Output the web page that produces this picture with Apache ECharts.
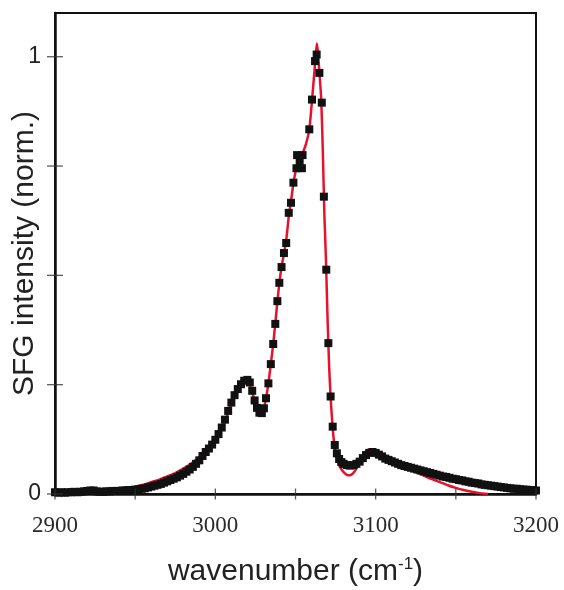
<!DOCTYPE html>
<html>
<head>
<meta charset="utf-8">
<script src="https://cdn.jsdelivr.net/npm/echarts@6/dist/echarts.min.js"></script>
<style>
html,body{margin:0;padding:0;background:#fff;}
#chart{width:564px;height:590px;}
</style>
</head>
<body>
<div id="chart"></div>
<script>
// measured SFG spectrum (black squares)
const dataWavenumber = [
  2900,2902,2904,2906,2908,2910,2912,2914,2916,2918,2920,2922,2924,2926,2928,2930,2932,2934,2936,2938,
  2940,2942,2944,2946,2948,2950,2952,2954,2956,2958,2960,2962,2964,2966,2968,2970,2972,2974,2976,2978,
  2980,2982,2984,2986,2988,2990,2992,2994,2996,2998,3000,3002,3004,3006,3008,3010,3012,3014,3016,3018,
  3020,3021.5,3023,3024.5,3026,3027.5,3029,3030.3,
  3031.6,3033.1,3034.6,3036.1,3037.4,3038.7,3039.9,3041.3,3042.8,3044.2,3045.8,3047.2,3048.7,
  3050.6,3051.0,3052.6,3054.0,3054.4,3058.6,3060.3,3062.2,3063.2,3064.9,3066.4,
  3067.7,3069.2,3070.5,3071.9,3073.2,3074.5,3075.8,3077.2,3078.6,3080,
  3082,3084,3086,3088,3090,3092,3094,3096,3098,3100,3102,3104,3106,3108,3110,3112,3114,3116,3118,3120,
  3122,3124,3126,3128,3130,3132,3134,3136,3138,3140,3142,3144,3146,3148,3150,3152,3154,3156,3158,3160,
  3162,3164,3166,3168,3170,3172,3174,3176,3178,3180,3182,3184,3186,3188,3190,3192,3194,3196,3198,3200
];
const dataIntensity = [
  0.004,0.003,0.004,0.003,0.004,0.004,0.005,0.004,0.005,0.006,0.007,0.008,0.008,0.006,0.005,0.005,0.006,0.006,0.007,0.007,
  0.007,0.008,0.008,0.009,0.009,0.010,0.011,0.012,0.013,0.015,0.017,0.019,0.021,0.023,0.026,0.029,0.032,0.035,0.038,0.042,
  0.046,0.051,0.056,0.062,0.069,0.077,0.087,0.096,0.104,0.113,0.124,0.137,0.152,0.170,0.190,0.209,0.226,0.240,0.251,0.259,
  0.261,0.255,0.236,0.214,0.197,0.186,0.185,0.196,
  0.219,0.253,0.297,0.343,0.389,0.441,0.483,0.519,0.551,0.574,0.643,0.666,0.712,
  0.745,0.775,0.760,0.745,0.775,0.834,0.902,0.990,1.005,0.963,0.895,
  0.680,0.513,0.345,0.223,0.154,0.112,0.093,0.080,0.073,0.069,
  0.066,0.065,0.066,0.069,0.074,0.082,0.089,0.094,0.096,0.094,0.090,0.086,0.081,0.078,0.075,0.072,0.069,0.066,0.064,0.062,
  0.060,0.058,0.056,0.054,0.052,0.050,0.048,0.046,0.044,0.042,0.040,0.039,0.037,0.035,0.034,0.032,0.031,0.029,0.028,0.026,
  0.025,0.024,0.022,0.021,0.020,0.019,0.018,0.017,0.016,0.015,0.014,0.013,0.012,0.012,0.011,0.010,0.010,0.009,0.009,0.008
];

// fitted spectrum (red line)
const fitWavenumber = [
  2900,2910,2920,2930,2935,2940,2945,2950,2955,2960,2965,2970,2975,2980,2985,2990,2995,3000,3004,3008,
  3012,3015,3018,3020,3022,3024,3026,3028,3030,3031.6,3033,3034.6,3036,3037.4,3038.7,3040,3041.3,3042.8,3044.2,3045.8,
  3047.2,3048.7,3050.5,3052.5,3054.5,3056.5,3058.6,3060.3,3062.2,3063.3,3064,3065,3066,3067,3068,3069,3070,3071,3072,3073,
  3074,3075,3076,3078,3080,3082,3084,3086,3088,3090,3092,3094,3096,3098,3100,3104,3108,3112,3116,3120,
  3125,3130,3135,3140,3145,3150,3155,3160,3165,3170
];
const fitIntensity = [
  0.003,0.002,0.002,0.003,0.005,0.007,0.011,0.016,0.021,0.027,0.033,0.040,0.048,0.058,0.070,0.085,0.102,0.123,0.148,0.186,
  0.226,0.249,0.261,0.260,0.245,0.220,0.197,0.186,0.192,0.219,0.250,0.297,0.340,0.390,0.440,0.485,0.519,0.550,0.580,0.635,
  0.670,0.710,0.745,0.765,0.780,0.800,0.834,0.900,0.985,1.030,1.010,0.960,0.905,0.790,0.640,0.535,0.400,0.290,0.215,0.160,
  0.120,0.095,0.078,0.060,0.050,0.044,0.043,0.048,0.058,0.072,0.088,0.098,0.102,0.100,0.096,0.086,0.078,0.071,0.064,0.058,
  0.050,0.042,0.034,0.027,0.020,0.014,0.009,0.005,0.002,0.000
];

const xTicks = [2900, 2950, 3000, 3050, 3100, 3150, 3200];
const xTickLabels = [2900, 3000, 3100, 3200];
const yTicks = [0, 0.25, 0.5, 0.75, 1];
const yTickLabels = [0, 1];

const scatterData = dataWavenumber.map((x, i) => [x, dataIntensity[i]]);
const fitData = fitWavenumber.map((x, i) => [x, fitIntensity[i]]);
// tick marks crossing the axes, placed through the axis scales
const xTickMarks = xTicks.map(v => [v, 0]);
const yTickMarks = yTicks.map(v => [2900, v]);

const chart = echarts.init(document.getElementById('chart'), null, {renderer: 'canvas'});

chart.setOption({
  animation: false,
  backgroundColor: '#fff',
  grid: {left: 55, right: 28, top: 13, bottom: 96, containLabel: false, outerBoundsMode: 'none',
         show: true, borderColor: '#111', borderWidth: 2, backgroundColor: 'transparent'},
  xAxis: {
    type: 'value',
    min: 2900, max: 3200, interval: 50,
    position: 'bottom',
    splitLine: {show: false},
    axisLine: {show: true, onZero: false, lineStyle: {color: '#111', width: 2.5}},
    axisTick: {show: false},
    axisLabel: {show: true, customValues: xTickLabels, margin: 20,
      formatter: v => String(v),
      fontFamily: 'Liberation Serif', fontSize: 23, color: '#2a2a2a'},
    name: 'wavenumber (cm{s|-1})',
    nameLocation: 'middle',
    nameMoveOverlap: false,
    nameGap: 62,
    nameTextStyle: {fontFamily: 'Liberation Sans', fontSize: 30, color: '#222',
      rich: {s: {fontFamily: 'Liberation Sans', fontSize: 17, color: '#222', padding: [0, 0, 14, 0]}}}
  },
  yAxis: {
    type: 'value',
    min: 0, max: 1.1, interval: 0.25,
    position: 'left',
    splitLine: {show: false},
    axisLine: {show: true, onZero: false, lineStyle: {color: '#111', width: 2.5}},
    axisTick: {show: false},
    axisLabel: {show: true, customValues: yTickLabels, margin: 14,
      formatter: v => String(v),
      fontFamily: 'Liberation Sans', fontSize: 23, color: '#222'},
    name: 'SFG intensity (norm.)',
    nameLocation: 'middle',
    nameMoveOverlap: false,
    nameGap: 15,
    nameTextStyle: {fontFamily: 'Liberation Sans', fontSize: 30, color: '#222'}
  },
  series: [
    {
      type: 'line',
      data: fitData,
      showSymbol: false,
      smooth: 0.2,
      lineStyle: {color: '#e8112d', width: 2.5},
      z: 2
    },
    {
      type: 'scatter',
      data: scatterData,
      symbol: 'rect',
      symbolSize: 8,
      itemStyle: {color: '#111', opacity: 1},
      z: 3
    },
    {
      type: 'scatter',
      data: xTickMarks,
      symbol: 'rect',
      symbolSize: [1.3, 11],
      clip: false,
      silent: true,
      itemStyle: {color: '#333'},
      z: 4
    },
    {
      type: 'scatter',
      data: yTickMarks,
      symbol: 'rect',
      symbolSize: [16, 1.3],
      clip: false,
      silent: true,
      itemStyle: {color: '#333'},
      z: 4
    }
  ]
});
</script>
</body>
</html>
